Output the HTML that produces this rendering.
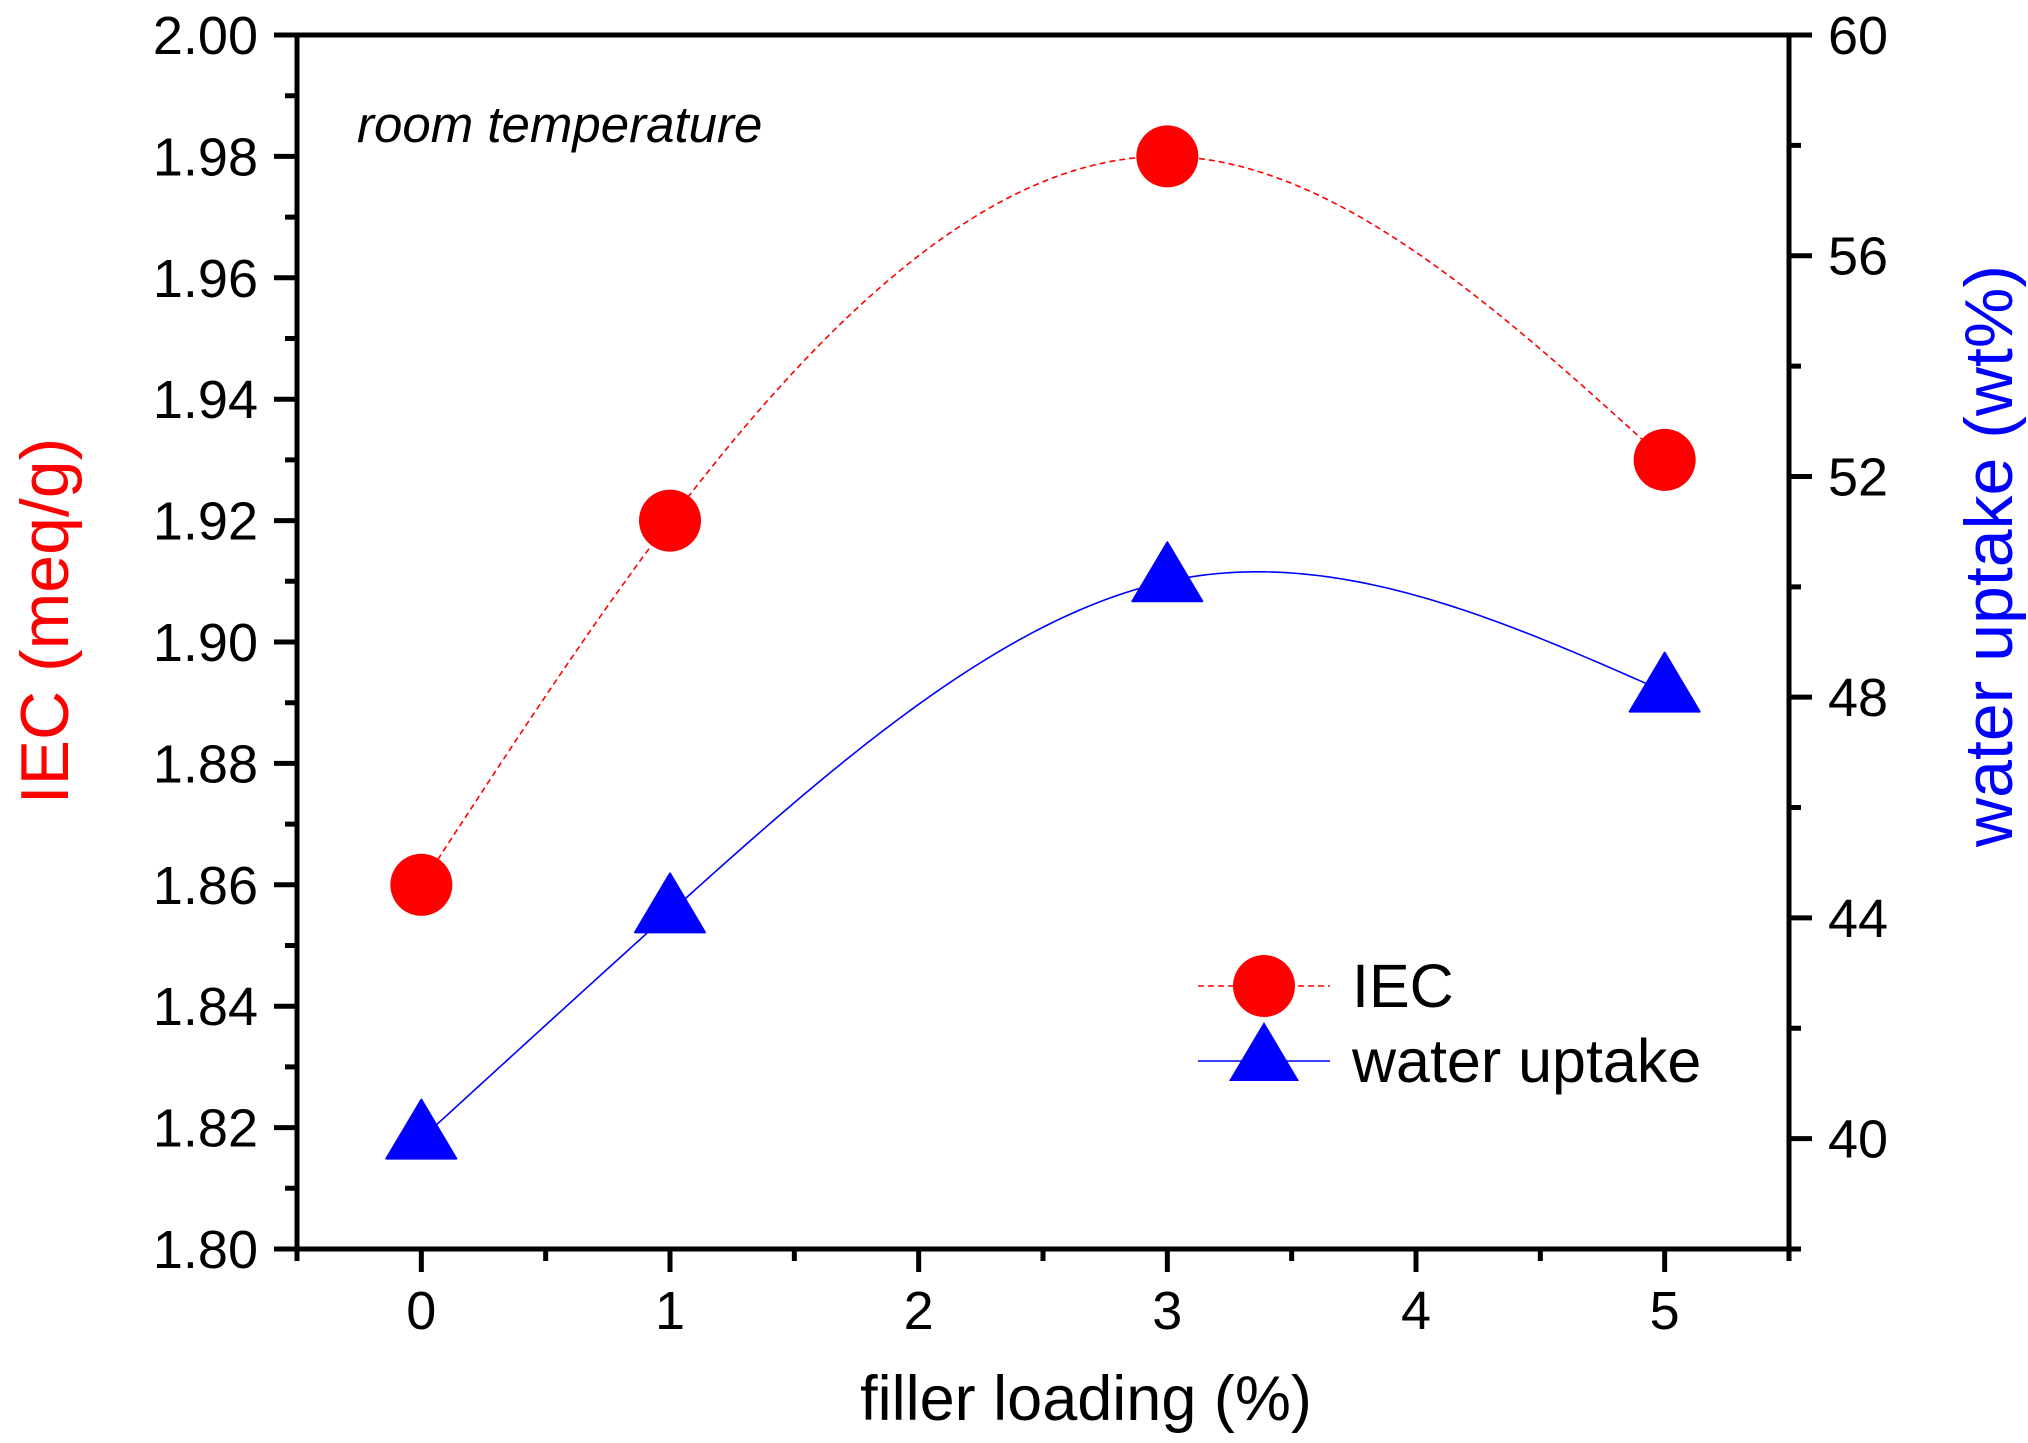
<!DOCTYPE html>
<html><head><meta charset="utf-8"><style>html,body{margin:0;padding:0;background:#fff}svg{display:block}</style></head>
<body>
<svg id="chart" width="2028" height="1443" viewBox="0 0 2028 1443" xmlns="http://www.w3.org/2000/svg" font-family="'Liberation Sans', Arial, sans-serif"></svg>
<script>
const xValues = [0, 1, 3, 5];
const iecValues = [1.86, 1.92, 1.98, 1.93];
const waterValues = [40.0, 44.1, 50.1, 48.1];
const xTicks = [0, 1, 2, 3, 4, 5];
const leftTicks = [1.80, 1.82, 1.84, 1.86, 1.88, 1.90, 1.92, 1.94, 1.96, 1.98, 2.00];
const rightTicks = [40, 44, 48, 52, 56, 60];

const L = 297, R = 1789, T = 35, B = 1249;
const xs = v => L + (v + 0.5) / 6 * (R - L);
const yl = v => B - (v - 1.80) / 0.20 * (B - T);
const yr = v => B - (v - 38) / 22 * (B - T);
const svg = document.getElementById('chart');
const NS = 'http://www.w3.org/2000/svg';
function mk(tag, attrs, parent) {
  const e = document.createElementNS(NS, tag);
  for (const k in attrs) e.setAttribute(k, attrs[k]);
  (parent || svg).appendChild(e);
  return e;
}
function spline(x, y) {
  const n = x.length, h = [], a = [], l = [1], mu = [0], z = [0], c = new Array(n).fill(0);
  for (let i = 0; i < n - 1; i++) h.push(x[i + 1] - x[i]);
  for (let i = 1; i < n - 1; i++) a[i] = 3 / h[i] * (y[i + 1] - y[i]) - 3 / h[i - 1] * (y[i] - y[i - 1]);
  for (let i = 1; i < n - 1; i++) {
    l[i] = 2 * (x[i + 1] - x[i - 1]) - h[i - 1] * mu[i - 1];
    mu[i] = h[i] / l[i];
    z[i] = (a[i] - h[i - 1] * z[i - 1]) / l[i];
  }
  const b = [], d = [];
  for (let j = n - 2; j >= 0; j--) {
    c[j] = (j === 0 ? 0 : z[j] - mu[j] * c[j + 1]);
    b[j] = (y[j + 1] - y[j]) / h[j] - h[j] * (c[j + 1] + 2 * c[j]) / 3;
    d[j] = (c[j + 1] - c[j]) / (3 * h[j]);
  }
  c[0] = 0;
  return t => {
    let j = 0;
    while (j < n - 2 && t > x[j + 1]) j++;
    const dx = t - x[j];
    return y[j] + b[j] * dx + c[j] * dx * dx + d[j] * dx * dx * dx;
  };
}
function curvePath(vals, yf) {
  const f = spline(xValues, vals);
  let p = '';
  const x0 = xValues[0], x1 = xValues[xValues.length - 1];
  for (let i = 0; i <= 200; i++) {
    const t = x0 + (x1 - x0) * i / 200;
    p += (i ? 'L' : 'M') + xs(t).toFixed(2) + ',' + yf(f(t)).toFixed(2);
  }
  return p;
}
let c1 = mk('path', {d: curvePath(iecValues, yl), fill: 'none', stroke: '#ff0000', 'stroke-width': 1.6, 'stroke-dasharray': '6,4'});


let c2 = mk('path', {d: curvePath(waterValues, yr), fill: 'none', stroke: '#0000ff', 'stroke-width': 1.6});


xValues.forEach((x, i) => {
  const c = mk('circle', {cx: xs(x), cy: yl(iecValues[i]), r: 31, fill: '#ff0000'});
  
  
  const cx = xs(x), cy = yr(waterValues[i]);
  const t = mk('polygon', {points: `${cx},${cy - 39} ${cx - 35},${cy + 20} ${cx + 35},${cy + 20}`, fill: '#0000ff', stroke: '#0000ff', 'stroke-width': 2, 'stroke-linejoin': 'round'});
  
  
});
const ax = mk('path', {d: `M${L},${T}H${R}M${L},${T - 2.5}V${B + 2.5}M${R},${T - 2.5}V${B + 2.5}M${L - 2.5},${B}H${R + 2.5}`, stroke: '#000', 'stroke-width': 5, fill: 'none'});


let tk = '';
xTicks.forEach(v => { tk += `M${xs(v)},${B}v23`; });
for (let v = -0.5; v <= 5.5; v += 1) tk += `M${xs(v)},${B}v12`;
for (let i = 0; i <= 20; i++) { const v = 1.80 + i * 0.01; tk += `M${L},${yl(v)}h${i % 2 ? -12 : -23}`; }
for (let v = 38; v <= 60; v += 2) tk += `M${R},${yr(v)}h${v % 4 === 0 ? 23 : 12}`;
const tp = mk('path', {d: tk, stroke: '#000', 'stroke-width': 5, fill: 'none'});


xTicks.forEach(v => {
  const t = mk('text', {x: xs(v), y: 1329, 'font-size': 54, 'text-anchor': 'middle'});
  t.textContent = v;
  
  
});
leftTicks.forEach(v => {
  const t = mk('text', {x: 258, y: yl(v) + 19, 'font-size': 54, 'text-anchor': 'end'});
  t.textContent = v.toFixed(2);
  
  
});
rightTicks.forEach(v => {
  const t = mk('text', {x: 1828, y: yr(v) + 19, 'font-size': 54, 'text-anchor': 'start'});
  t.textContent = v;
  
  
});
</script>
<svg style="position:absolute;left:0;top:0" width="2028" height="1443" viewBox="0 0 2028 1443" font-family="'Liberation Sans', Arial, sans-serif">
  <text x="1086" y="1420" font-size="63" text-anchor="middle">filler loading (%)</text>
  <text transform="translate(68,621) rotate(-90)" font-size="68" text-anchor="middle" fill="#ff0000">IEC (meq/g)</text>
  <text transform="translate(2012,556) rotate(-90)" font-size="68" text-anchor="middle" fill="#0000ff">water uptake (wt%)</text>
  <text x="357" y="142" font-size="51" font-style="italic">room temperature</text>
  <g>
    <line x1="1198" y1="986" x2="1330" y2="986" stroke="#ff0000" stroke-width="1.6" stroke-dasharray="6,4"/>
    <circle cx="1264" cy="986" r="31" fill="#ff0000"/>
    <text x="1352" y="1007" font-size="61">IEC</text>
    <line x1="1198" y1="1061" x2="1330" y2="1061" stroke="#0000ff" stroke-width="1.6"/>
    <polygon points="1264,1022 1229,1081 1299,1081" fill="#0000ff"/>
    <text x="1352" y="1082" font-size="61">water uptake</text>
  </g>
</svg>
</body></html>
